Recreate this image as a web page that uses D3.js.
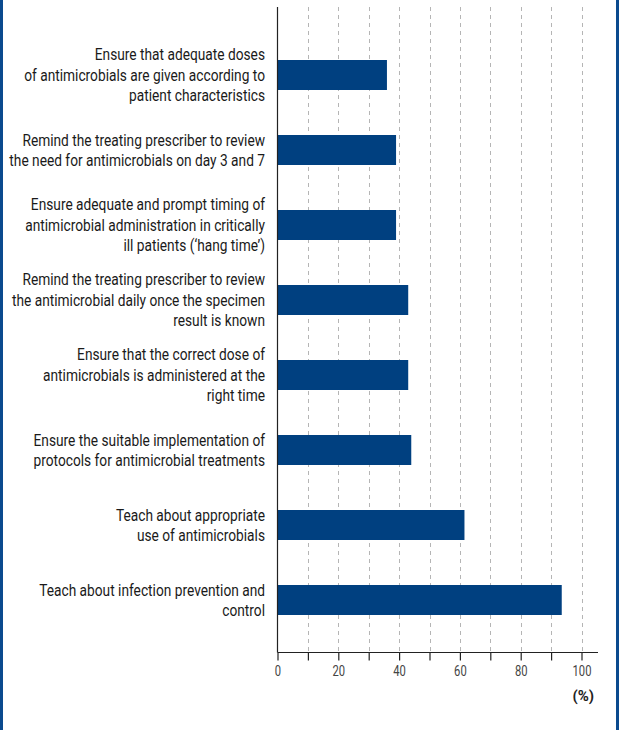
<!DOCTYPE html>
<html><head><meta charset="utf-8">
<script src="https://cdn.jsdelivr.net/npm/d3@7"></script>
<style>
html,body{margin:0;padding:0;background:#fff;}
svg{display:block;}
</style></head>
<body>
<svg id="chart" width="619" height="730"></svg>
<script>
const categories = [
  "Ensure that adequate doses|of antimicrobials are given according to|patient characteristics",
  "Remind the treating prescriber to review|the need for antimicrobials on day 3 and 7",
  "Ensure adequate and prompt timing of|antimicrobial administration in critically|ill patients (\u2018hang time\u2019)",
  "Remind the treating prescriber to review|the antimicrobial daily once the specimen|result is known",
  "Ensure that the correct dose of|antimicrobials is administered at the|right time",
  "Ensure the suitable implementation of|protocols for antimicrobial treatments",
  "Teach about appropriate|use of antimicrobials",
  "Teach about infection prevention and|control"
];
const values = [36, 39, 39, 43, 43, 44, 61.5, 93.5];
const tickValues = [0,10,20,30,40,50,60,70,80,90,100];
const tickLabels = [0,20,40,60,80,100];
const unitLabel = "(%)";

const svg = d3.select("#chart");
const x = d3.scaleLinear().domain([0,100]).range([277.5, 581.5]);
const y = d3.scaleBand().domain(d3.range(categories.length)).range([37.5, 637.5]).paddingInner(0.6).paddingOuter(0.3);
const plotTop = 7, axisY = 652.5;
const FONT = "Roboto, 'Liberation Sans', sans-serif";

// frame
svg.append("line").attr("x1",1.5).attr("x2",1.5).attr("y1",0).attr("y2",730).attr("stroke","#0b4a8e").attr("stroke-width",3);
svg.append("line").attr("x1",617.5).attr("x2",617.5).attr("y1",0).attr("y2",730).attr("stroke","#0b4a8e").attr("stroke-width",3);

// grid
svg.append("g").selectAll("line").data(tickValues.filter(d=>d>0)).join("line")
  .attr("x1",d=>Math.round(x(d))+0.5).attr("x2",d=>Math.round(x(d))+0.5)
  .attr("y1",plotTop).attr("y2",axisY)
  .attr("stroke","#b5b5b5").attr("stroke-width",1).attr("stroke-dasharray","4,4");

// bars
svg.append("g").selectAll("rect").data(values).join("rect")
  .attr("x",x(0)).attr("y",(d,i)=>y(i)).attr("width",d=>x(d)-x(0)).attr("height",y.bandwidth())
  .attr("fill","#004080");

// y axis line
svg.append("line").attr("x1",x(0)).attr("x2",x(0)).attr("y1",plotTop).attr("y2",axisY).attr("stroke","#222").attr("stroke-width",1.2);

// x axis
const xAxis = d3.axisBottom(x).tickValues(tickValues).tickSize(8).tickSizeOuter(0)
  .tickFormat(d=>tickLabels.includes(d)?d:"");
const gx = svg.append("g").attr("transform",`translate(0,${axisY})`).call(xAxis);
gx.select(".domain").attr("d",`M${x(0)},0H598`).attr("stroke","#222").attr("stroke-width",1.2);
gx.selectAll(".tick line").attr("stroke","#222").attr("stroke-width",1.2);
gx.selectAll(".tick text").attr("font-family",FONT).attr("font-size",14).attr("fill","#444")
  .attr("dy","0.71em").attr("y",14)
  .attr("transform","scale(0.8,1)");

svg.append("text").attr("x",594).attr("y",701).attr("text-anchor","end")
  .attr("font-family",FONT).attr("font-weight","bold").attr("font-size",15).attr("fill","#222").text(unitLabel);

// labels
const labelRight = 265;
const lab = svg.append("g");
let refText = null;
categories.forEach((c,i)=>{
  const lines = c.split("|");
  const cy = y(i)+y.bandwidth()/2;
  const lh = 20.5;
  const t = lab.append("text").attr("text-anchor","end")
    .attr("font-family",FONT)
    .attr("font-size",16.5).attr("fill","#1a1a1a");
  lines.forEach((l,j)=>{
    const ts = t.append("tspan").attr("x",labelRight).attr("y",cy+(j-(lines.length-1)/2)*lh).attr("dy","0.35em").text(l);
    if (l === "of antimicrobials are given according to") refText = ts;
  });
});
// condense horizontally to match the reference's narrow typeface
const w = refText.node().getComputedTextLength();
const sx = 241 / w;
lab.attr("transform",`translate(${labelRight},0) scale(${sx},1) translate(${-labelRight},0)`);
</script>
</body></html>
